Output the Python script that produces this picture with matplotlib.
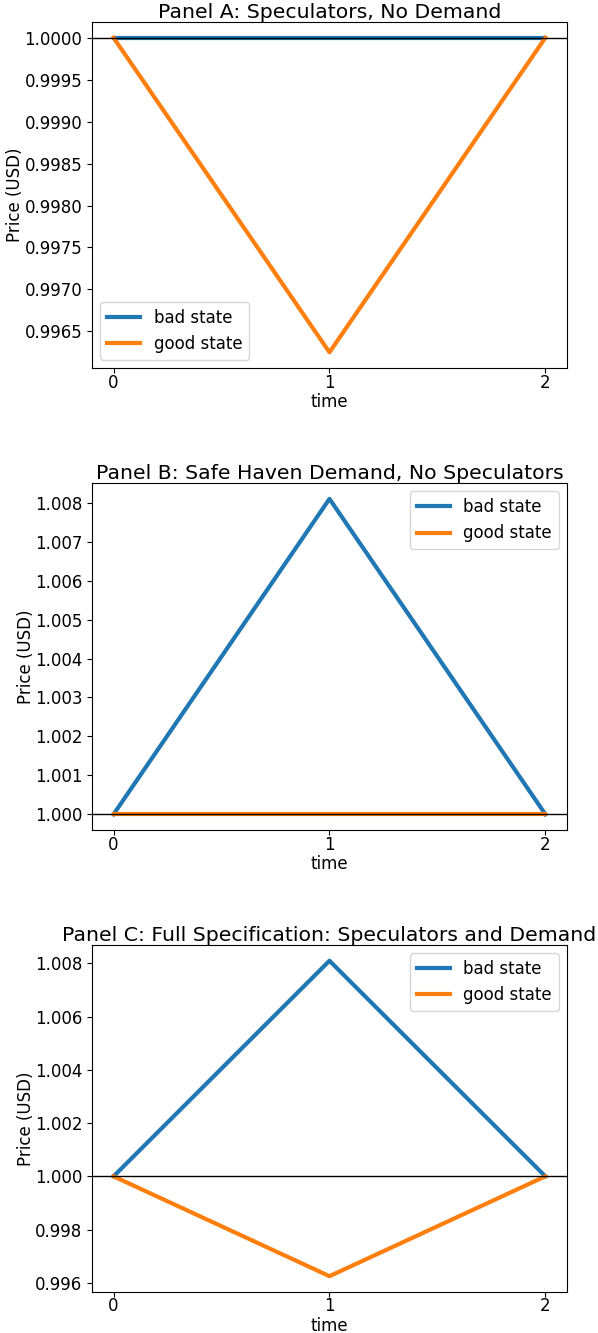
import matplotlib.pyplot as plt

time = [0, 1, 2]

# price paths for each panel
bad_a = [1.0, 1.0, 1.0]
good_a = [1.0, 0.99625, 1.0]

bad_b = [1.0, 1.0081, 1.0]
good_b = [1.0, 1.0, 1.0]

bad_c = [1.0, 1.0081, 1.0]
good_c = [1.0, 0.99625, 1.0]

titles = ['Panel A: Speculators, No Demand',
          'Panel B: Safe Haven Demand, No Speculators',
          'Panel C: Full Specification: Speculators and Demand']
legend_locs = ['lower left', 'upper right', 'upper right']

plt.rcParams['font.size'] = 12
plt.rcParams['xtick.major.pad'] = 0.5

fig = plt.figure(figsize=(5.98, 13.33), dpi=100)
rects = [[0.1538, 0.7239, 0.7943, 0.2596],
         [0.1538, 0.3773, 0.7943, 0.2603],
         [0.1538, 0.0308, 0.7943, 0.2603]]

panels = [(bad_a, good_a), (bad_b, good_b), (bad_c, good_c)]
for rect, (bad, good), title, loc in zip(rects, panels, titles, legend_locs):
    ax = fig.add_axes(rect)
    ax.plot(time, bad, lw=3, label='bad state')
    ax.plot(time, good, lw=3, label='good state')
    ax.axhline(1.0, color='black', lw=1)
    ax.set_xticks(time)
    ax.set_xlabel('time', labelpad=1)
    ax.set_ylabel('Price (USD)', labelpad=0)
    ax.set_title(title, fontsize=14.7, pad=2)
    ax.legend(loc=loc, fontsize=12)

fig.savefig('out.png', dpi=100)
